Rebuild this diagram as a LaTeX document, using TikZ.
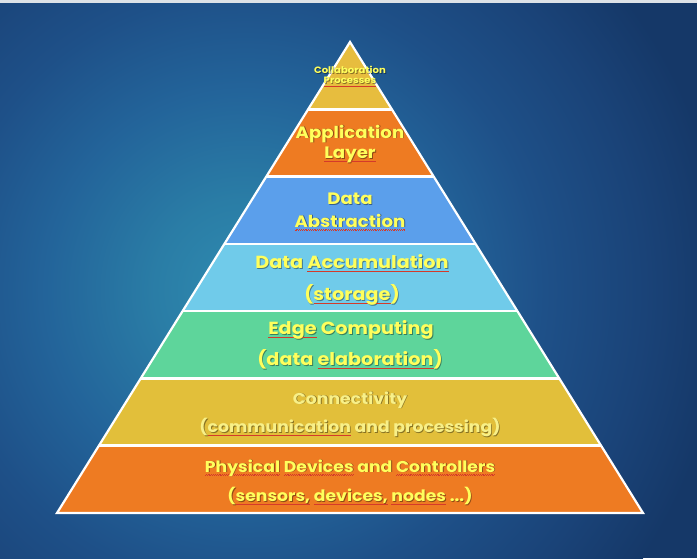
\documentclass[tikz,border=0pt]{standalone}
\usepackage{fontspec}
\setmainfont{Poppins}
\newfontfamily\lblfont{Poppins}[FakeStretch=1.1]

% colours
\definecolor{bgA}{HTML}{2F8BB0}
\definecolor{bgB}{HTML}{2A7DA6}
\definecolor{bgC}{HTML}{23649A}
\definecolor{bgD}{HTML}{1E5088}
\definecolor{bgE}{HTML}{1A4378}
\definecolor{bgF}{HTML}{153868}
\definecolor{topstrip}{HTML}{DDE2E7}
\definecolor{layGold}{HTML}{E7BD3E}
\definecolor{layOrange}{HTML}{EE7B22}
\definecolor{layBlue}{HTML}{5B9FEB}
\definecolor{laySky}{HTML}{70CBEA}
\definecolor{layGreen}{HTML}{5ED59B}
\definecolor{layYellow}{HTML}{E2BF3A}
\definecolor{lblyellow}{HTML}{FFFF5C}
\definecolor{lblpale}{HTML}{F8F088}
\definecolor{spellred}{HTML}{D43A2A}

% wavy proofing underline drawn beneath a word
\newsavebox\splbox
\newcommand\spl[1]{%
  \sbox\splbox{#1}%
  \rlap{\hbox to \wd\splbox{\color{spellred}%
    \xleaders\hbox{\rule[-3.7pt]{0.9pt}{0.8pt}\rule[-3.0pt]{0.9pt}{0.8pt}}\hfill}}%
  \usebox\splbox}

% glow; the shaded path's radius sits at 25bp
\pgfdeclareradialshading{bgglow}{\pgfpointorigin}{color(0bp)=(bgA); color(4.7bp)=(bgB); color(10.4bp)=(bgC); color(15.6bp)=(bgD); color(20.8bp)=(bgE); color(25bp)=(bgF); color(50bp)=(bgF)}

\tikzset{
  layer/.style={fill=#1, draw=none},
  separator/.style={draw=white, line width=2.6pt},
  outline/.style={draw=white, line width=2.2pt, line join=miter},
  lbltext/.style={font=\lblfont\bfseries\fontsize{16.5}{18}\selectfont, text=lblyellow, anchor=base, inner sep=0pt},
  lblsmall/.style={font=\lblfont\bfseries\fontsize{9.2}{10}\selectfont},
  lblbig/.style={font=\lblfont\bfseries\fontsize{17.5}{19}\selectfont},
  lblnarrow/.style={font=\lblfont\bfseries\fontsize{15.7}{17}\selectfont},
  lblshade/.style={text=black, text opacity=0.4},
}

% label with a soft drop shadow
\newcommand\lbl[4][]{%
  \node[lbltext, #1, lblshade] (#2-sh) at (350.9,#3+0.9) {\let\spl\relax#4};
  \node[lbltext, #1] (#2) at (350,#3) {#4};}

\begin{document}
\begin{tikzpicture}[x=1pt, y=-1pt]
  \useasboundingbox (0,0) rectangle (697,558);

  % background
  \begin{scope}
    \clip (0,0) rectangle (697,558);
    \fill[bgF] (0,0) rectangle (697,558);
    \shade[shading=bgglow] (245,290) circle (480pt);
    \fill[topstrip] (0,0) rectangle (697,2.5);
  \end{scope}

  % layer boundaries of the pyramid
  \foreach \i in {0,...,7} {
    \coordinate (L\i) at ({350-41.857*\i},{42+67.2857*\i});
    \coordinate (R\i) at ({350+41.857*\i},{42+67.2857*\i});
  }

  % layers, top to bottom
  \fill[layer=layGold]   (L0) -- (L1) -- (R1) -- cycle;
  \fill[layer=layOrange] (L1) -- (L2) -- (R2) -- (R1) -- cycle;
  \fill[layer=layBlue]   (L2) -- (L3) -- (R3) -- (R2) -- cycle;
  \fill[layer=laySky]    (L3) -- (L4) -- (R4) -- (R3) -- cycle;
  \fill[layer=layGreen]  (L4) -- (L5) -- (R5) -- (R4) -- cycle;
  \fill[layer=layYellow] (L5) -- (L6) -- (R6) -- (R5) -- cycle;
  \fill[layer=layOrange] (L6) -- (L7) -- (R7) -- (R6) -- cycle;

  \foreach \i in {1,...,6} \draw[separator] (L\i) -- (R\i);
  \draw[outline] (L0) -- (L7) -- (R7) -- cycle;

  % labels
  \lbl[lblsmall]{collab1}{73.5}{Collaboration}
  \lbl[lblsmall]{collab2}{83.5}{\spl{Processes}}

  \lbl{app1}{138}{Application}
  \lbl{app2}{158.5}{\spl{Layer}}

  \lbl{abs1}{204.5}{Data}
  \lbl{abs2}{227}{\spl{Abstraction}}

  \lbl[lblbig, xshift=2pt]{acc1}{268.5}{Data \spl{Accumulation}}
  \lbl[lblbig, xshift=2pt]{acc2}{300.5}{(\spl{storage})}

  \lbl[lblbig, xshift=1pt]{edge1}{334.5}{\spl{Edge} Computing}
  \lbl[lblbig]{edge2}{365.5}{(data \spl{elaboration})}

  \lbl[lblnarrow, text=lblpale]{conn1}{404}{Connectivity}
  \lbl[lblnarrow, text=lblpale]{conn2}{432.5}{(\spl{communication} and processing)}

  \lbl[lblnarrow]{phys1}{472}{\spl{Physical} \spl{Devices} and \spl{Controllers}}
  \lbl[lblnarrow]{phys2}{501.5}{(\spl{sensors,} \spl{devices,} \spl{nodes} ...)}
\end{tikzpicture}
\end{document}
